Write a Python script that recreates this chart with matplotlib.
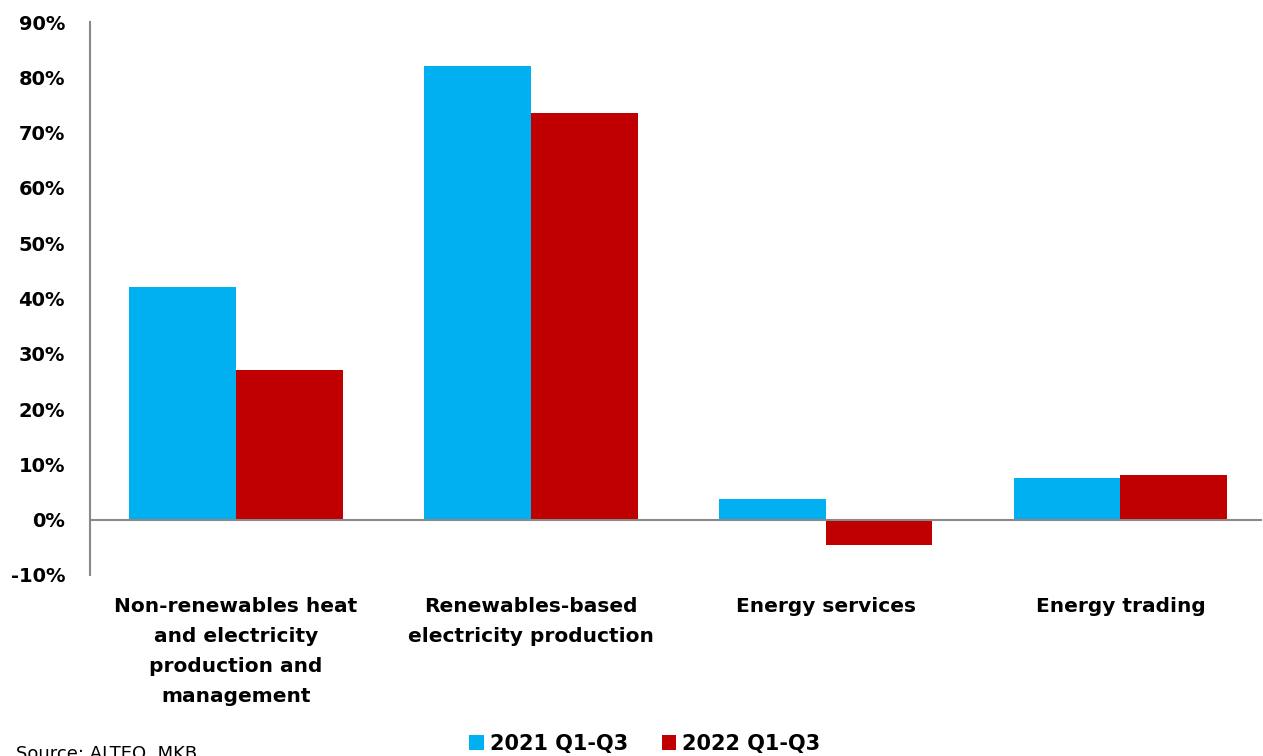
import matplotlib.pyplot as plt
import numpy as np
from matplotlib.ticker import FuncFormatter

# data
categories = ["Non-renewables heat\nand electricity\nproduction and\nmanagement",
              "Renewables-based\nelectricity production",
              "Energy services",
              "Energy trading"]
series_names = ["2021 Q1-Q3", "2022 Q1-Q3"]
values_2021 = [0.42, 0.82, 0.038, 0.075]
values_2022 = [0.27, 0.735, -0.045, 0.08]
y_ticks = [-0.1, 0, 0.1, 0.2, 0.3, 0.4, 0.5, 0.6, 0.7, 0.8, 0.9]

BLUE = "#00B0F0"
RED = "#C00000"
GREY = "#898989"
FONT = "DejaVu Sans"

fig = plt.figure(figsize=(12.63, 7.56), dpi=100)
ax = fig.add_axes([90 / 1263, 1 - 575 / 756, 1 - 91 / 1263, (575 - 22) / 756])

x = np.arange(len(categories))
width = 0.362
ax.bar(x - width / 2, values_2021, width, color=BLUE, label=series_names[0], zorder=2)
ax.bar(x + width / 2, values_2022, width, color=RED, label=series_names[1], zorder=2)

ax.set_xlim(-0.495, 3.48)
ax.set_ylim(-0.1, 0.9)
ax.set_yticks(y_ticks)
ax.yaxis.set_major_formatter(FuncFormatter(lambda v, _: f"{v * 100:.0f}%"))
ax.axhline(0, color=GREY, linewidth=1.5, zorder=3)

for side in ["top", "right", "bottom"]:
    ax.spines[side].set_visible(False)
ax.spines["left"].set_color(GREY)
ax.spines["left"].set_linewidth(1.5)

ax.tick_params(axis="y", length=0, pad=18)
ax.tick_params(axis="x", length=0, pad=16)
ax.set_xticks(x)
ax.set_xticklabels(categories, linespacing=1.72)
for lbl in ax.get_yticklabels():
    lbl.set_fontfamily(FONT)
    lbl.set_fontweight("bold")
    lbl.set_fontsize(14)
for lbl in ax.get_xticklabels():
    lbl.set_fontfamily(FONT)
    lbl.set_fontweight("bold")
    lbl.set_fontsize(14.5)

fig.legend(loc="center", bbox_to_anchor=(645 / 1263, 1 - 744 / 756), ncol=2, frameon=False,
           prop={"family": FONT, "weight": "bold", "size": 15}, handlelength=0.7, handleheight=0.7,
           handletextpad=0.3, columnspacing=1.6)

fig.text(16 / 1263, 1 - 754 / 756, "Source: ALTEO, MKB", fontsize=13, family=FONT, va="center")

fig.savefig("out.png", dpi=100)
